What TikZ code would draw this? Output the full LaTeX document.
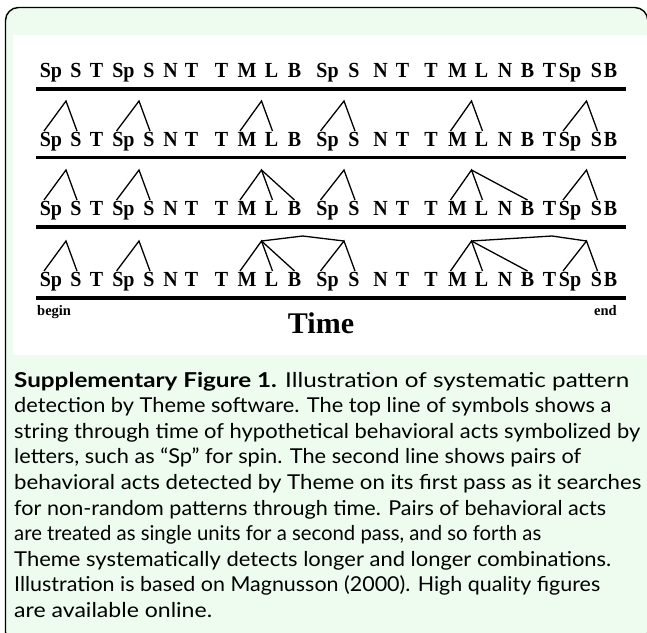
\documentclass[tikz,border=0pt]{standalone}
\usepackage{fontspec}
\usepackage{graphicx}
\setmainfont{Liberation Serif}
\newfontfamily\capfont{Lato}
\newfontfamily\ltfont[FakeStretch=0.93]{Liberation Serif Bold}
\usetikzlibrary{calc}
\definecolor{boxgreen}{RGB}{237,252,238}
\newcommand{\fitline}[2]{\resizebox{#1pt}{\height}{#2}}
\tikzset{
  lt/.style={font=\ltfont\fontsize{21.5}{21.5}\selectfont, inner sep=0pt, anchor=base},
  timeline/.style={line width=3.6pt},
  chevron/.style={line width=1.3pt, line join=miter},
  captext/.style={font=\capfont\fontsize{20.5}{24}\selectfont, inner sep=0pt, anchor=base west},
  smalllbl/.style={font=\fontsize{14.5}{14.5}\selectfont\bfseries, inner sep=0pt},
}
\newcommand{\mychev}[3]{%
  \coordinate (ap#1-#3) at ($(r#1-#3.base)+(-10,-45)$);
  \draw[chevron] ($(r#1-#2.base)+(-7,-15)$) -- (ap#1-#3) -- ($(r#1-#3.base)+(1,-15)$);}
\newcommand{\mytri}[4]{%
  \coordinate (ap#1-#3) at ($(r#1-#3.base)+(-10,-45)$);
  \draw[chevron] ($(r#1-#2.base)+(-7,-15)$) -- (ap#1-#3) -- ($(r#1-#3.base)+(1,-15)$);
  \draw[chevron] (ap#1-#3) -- ($(r#1-#4.base)+(0,-15)$);}
\begin{document}
\begin{tikzpicture}[x=1pt,y=-1pt]
\useasboundingbox (0,0) rectangle (647,632);
% frame
\draw[line width=1.4pt, fill=boxgreen, rounded corners=13pt] (5.5,7.5) rectangle (647.8,645);
\fill[white] (12.5,35) rectangle (647,355);
% letters
\foreach \r/\B in {1/77,2/146,3/215,4/286}{
  \foreach \i/\x/\t in {1/51/Sp,2/76/S,3/96.5/T,4/123.5/Sp,5/149/S,6/170.5/N,7/191.5/T,8/221.5/T,9/247/M,10/271.5/L,11/294.5/B,12/327.5/Sp,13/354/S,14/380.5/N,15/402.5/T,16/431/T,17/457.5/M,18/481.5/L,19/505/N,20/527.5/B,21/549.5/T,22/570/Sp,23/596.5/S,24/610.5/B}{
    \node[lt] (r\r-\i) at (\x,\B) {\t};
  }
}
% time lines
\foreach \y in {89,157.5,227,298}{
  \draw[timeline] (36,\y) -- (626,\y);
}
% row 2
\mychev{2}{1}{2}\mychev{2}{4}{5}\mychev{2}{9}{10}\mychev{2}{12}{13}\mychev{2}{17}{18}\mychev{2}{22}{23}
% row 3
\mychev{3}{1}{2}\mychev{3}{4}{5}\mytri{3}{9}{10}{11}\mychev{3}{12}{13}\mytri{3}{17}{18}{20}\mychev{3}{22}{23}
% row 4
\mychev{4}{1}{2}\mychev{4}{4}{5}\mytri{4}{9}{10}{11}\mychev{4}{12}{13}\mytri{4}{17}{18}{20}\mychev{4}{22}{23}
\draw[chevron] (ap4-10) -- ($(ap4-10)!0.5!(ap4-13)+(0,-5)$) -- (ap4-13);
\draw[chevron] (ap4-18) -- ($(ap4-18)!0.7!(ap4-23)+(0,-5)$) -- (ap4-23);
% labels
\node[smalllbl, anchor=base west] (begin) at (37,315) {begin};
\node[smalllbl, anchor=base east] (end) at (617,315) {end};
\node[font=\fontsize{30}{30}\selectfont\bfseries, inner sep=0pt, anchor=base] (time) at (321,333) {Time};
% caption
\node[captext] (c1) at (14,387) {\fitline{615}{\textbf{Supplementary Figure 1.} Illustration of systematic pattern}};
\node[captext] (c2) at (14,412.6) {\fitline{597}{detection by Theme software. The top line of symbols shows a}};
\node[captext] (c3) at (14,438.2) {\fitline{626}{string through time of hypothetical behavioral acts symbolized by}};
\node[captext] (c4) at (14,463.8) {\fitline{567}{letters, such as “Sp” for spin. The second line shows pairs of}};
\node[captext] (c5) at (14,489.4) {\fitline{627}{behavioral acts detected by Theme on its first pass as it searches}};
\node[captext] (c6) at (14,515) {\fitline{592}{for non-random patterns through time. Pairs of behavioral acts}};
\node[captext] (c7) at (14,540.6) {\fitline{527}{are treated as single units for a second pass, and so forth as}};
\node[captext] (c8) at (14,566.2) {\fitline{597}{Theme systematically detects longer and longer combinations.}};
\node[captext] (c9) at (14,591.8) {\fitline{586}{Illustration is based on Magnusson (2000). High quality figures}};
\node[captext] (c10) at (14,617.4) {\fitline{198}{are available online.}};
\end{tikzpicture}
\end{document}
